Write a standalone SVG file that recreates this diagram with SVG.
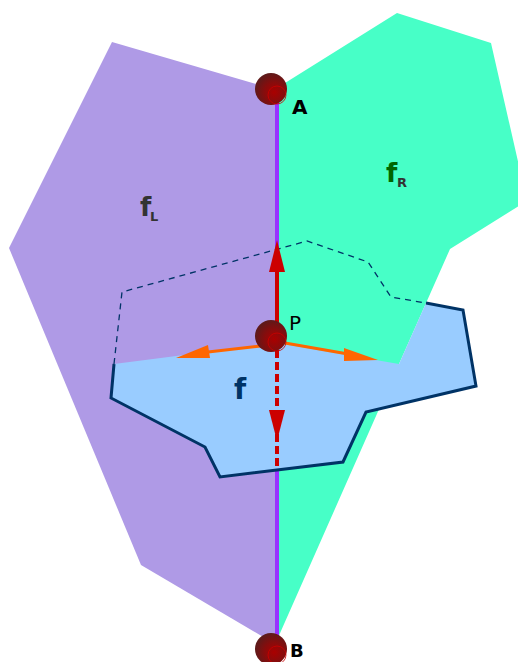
<svg xmlns="http://www.w3.org/2000/svg" width="518" height="662" viewBox="0 0 518 662">
<defs>
<radialGradient id="ball" cx="0.6" cy="0.6" r="0.6">
<stop offset="0" stop-color="#aa0000"/>
<stop offset="0.5" stop-color="#880c0c"/>
<stop offset="1" stop-color="#5e1a1a"/>
</radialGradient>
<style>
.lbl{font-family:"DejaVu Sans","Liberation Sans",sans-serif;}
.face{stroke:none;}
.edge{fill:none;stroke:#003366;stroke-width:3;stroke-linejoin:miter;}
.hidden{fill:none;stroke:#003366;stroke-width:1.3;stroke-dasharray:6,5;}
.ball{fill:url(#ball);}
.hl{fill:none;stroke:#cc0000;stroke-width:0.8;}
</style>
</defs>
<rect width="518" height="662" fill="#ffffff"/>
<g id="fL">
<polygon class="face" fill="#af9ae6" points="112,42 277,90 277,645 141,565 9,248"/>
<text class="lbl" x="140" y="216" font-size="26" font-weight="bold" fill="#333333">f</text>
<text class="lbl" x="150" y="221" font-size="13" font-weight="bold" fill="#333333">L</text>
</g>
<g id="fR">
<polygon class="face" fill="#47ffc7" points="277,88 397,13 491,43 527,201 450,249 399,364 277,640"/>
<text class="lbl" x="386" y="182" font-size="26" font-weight="bold" fill="#006600">f</text>
<text class="lbl" x="397" y="187" font-size="13" font-weight="bold" fill="#333333">R</text>
</g>
<g id="connectors">
<line x1="277" y1="92" x2="277" y2="640" stroke="#9933ff" stroke-width="4"/>
</g>
<g id="f">
<polygon class="face" fill="#99ccff" points="114,364 277,343 399,364 426,303 463,310 476,386 366,412 343,462 220,477 205,447 111,398"/>
<polyline class="edge" points="426,303 463,310 476,386 366,412 343,462 220,477 205,447 111,398 114,364"/>
<polyline class="hidden" points="114,364 122,292 307,241 368,262 391,297 426,303"/>
<text class="lbl" x="234" y="399" font-size="28" font-weight="bold" fill="#003366">f</text>
</g>
<g id="vectors">
<line x1="277" y1="345" x2="277" y2="270" stroke="#cc0000" stroke-width="4"/>
<polygon points="277,240 269,272 285,272" fill="#cc0000"/>
<line x1="277" y1="350" x2="277" y2="470" stroke="#cc0000" stroke-width="4" stroke-dasharray="8,4"/>
<polygon points="277,441 269,410 285,410" fill="#cc0000"/>
<line x1="270" y1="345" x2="208" y2="352" stroke="#ff6600" stroke-width="3"/>
<polygon points="176,358 208,345 210,358" fill="#ff6600"/>
<line x1="285" y1="343" x2="348" y2="354" stroke="#ff6600" stroke-width="3"/>
<polygon points="378,360 344,348 344,361" fill="#ff6600"/>
</g>
<g id="A">
<circle class="ball" cx="271" cy="89" r="16"/>
<circle class="hl" cx="277" cy="95" r="9"/>
<text class="lbl" x="292" y="114" font-size="20" font-weight="bold" fill="#000000">A</text>
</g>
<g id="P">
<circle class="ball" cx="271" cy="336" r="16"/>
<circle class="hl" cx="277" cy="342" r="9"/>
<text class="lbl" x="289" y="330" font-size="20" fill="#000000">P</text>
</g>
<g id="B">
<circle class="ball" cx="271" cy="649" r="16"/>
<circle class="hl" cx="277" cy="655" r="9"/>
<text class="lbl" x="290" y="657" font-size="18" font-weight="bold" fill="#000000">B</text>
</g>
</svg>
